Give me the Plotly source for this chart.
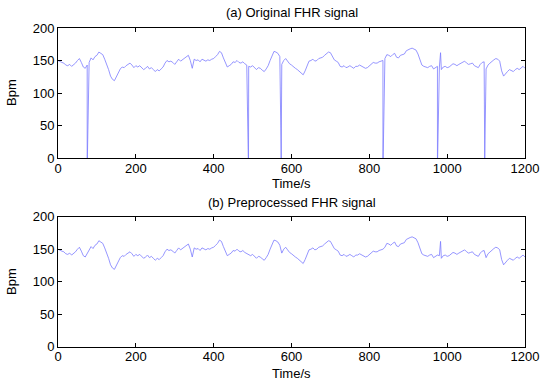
import plotly.graph_objects as go

# Time axis (s), 5-second steps from 0 to 1200
time_s = list(range(0, 1205, 5))

# Preprocessed FHR (bpm)
fhr_clean = [
    150, 148, 147, 146, 143, 142, 144, 141, 143, 146, 150, 153, 147, 140, 138, 143, 147, 154, 151, 156,
    158, 163, 161, 159, 152, 145, 136, 126, 121, 119, 125, 132, 137, 140, 139, 142, 144, 146, 143, 139,
    142, 140, 142, 139, 136, 138, 141, 137, 139, 136, 133, 136, 134, 137, 140, 146, 150, 148, 149, 147,
    144, 148, 152, 149, 151, 153, 155, 158, 150, 138, 152, 150, 151, 148, 152, 150, 149, 151, 150, 152,
    153, 156, 159, 164, 162, 154, 146, 140, 142, 144, 148, 147, 150, 147, 146, 148, 145, 143, 141, 140,
    142, 139, 136, 139, 138, 135, 133, 137, 142, 150, 158, 164, 163, 161, 156, 144, 150, 153, 149, 145,
    143, 140, 138, 136, 133, 130, 128, 134, 142, 149, 150, 152, 149, 150, 153, 154, 155, 158, 161, 163,
    162, 156, 151, 149, 147, 141, 140, 142, 139, 140, 142, 140, 138, 141, 141, 143, 141, 139, 138, 139,
    142, 144, 147, 146, 146, 148, 149, 150, 153, 159, 158, 156, 159, 161, 155, 154, 158, 159, 160, 165,
    167, 168, 169, 168, 166, 160, 150, 143, 141, 140, 139, 141, 142, 137, 139, 141, 140, 136, 140, 141,
    139, 140, 143, 145, 144, 142, 144, 146, 147, 149, 146, 144, 145, 146, 142, 140, 139, 144, 147, 148,
    137, 143, 146, 149, 151, 153, 152, 149, 134, 126, 130, 133, 136, 134, 133, 136, 138, 136, 139, 141,
    138,
]

# Short upward artefact present in both signals
peak_t = [983.0]
peak_v = [162]

# Dropout artefacts (signal loss) in the original recording
drop_t = [75.0, 75.5, 489.0, 489.5, 573.0, 573.5, 835.0, 835.5, 975.0, 975.5, 1096.0, 1096.5]
drop_v = [0, 0, 0, 0, 0, 0, 0, 0, 0, 0, 0, 0]


def merge(*pairs):
    pts = []
    for ts, vs in pairs:
        pts.extend(zip(ts, vs))
    pts.sort(key=lambda p: p[0])
    return [p[0] for p in pts], [p[1] for p in pts]


x_clean, y_clean = merge((time_s, fhr_clean), (peak_t, peak_v))
x_orig, y_orig = merge((time_s, fhr_clean), (peak_t, peak_v), (drop_t, drop_v))

LINE = dict(color="#7b7bff", width=0.8)
FONT = "Liberation Sans, Arial, sans-serif"
FS = 13

fig = go.Figure()
fig.add_trace(go.Scatter(x=x_orig, y=y_orig, mode="lines", line=LINE, xaxis="x", yaxis="y",
                         showlegend=False, hoverinfo="skip"))
fig.add_trace(go.Scatter(x=x_clean, y=y_clean, mode="lines", line=LINE, xaxis="x2", yaxis="y2",
                         showlegend=False, hoverinfo="skip"))

xdom = [58 / 550, 525 / 550]
common_x = dict(range=[0, 1200], tickvals=[0, 200, 400, 600, 800, 1000, 1200],
                showline=True, linecolor="black", linewidth=1, mirror="ticks",
                ticks="inside", ticklen=4, tickcolor="black", showgrid=False, zeroline=False,
                automargin=False, ticklabelstandoff=-2,
                tickfont=dict(size=FS, color="black", family=FONT), domain=xdom)
common_y = dict(range=[0, 200], tickvals=[0, 50, 100, 150, 200],
                showline=True, linecolor="black", linewidth=1, mirror="ticks",
                ticks="inside", ticklen=4, tickcolor="black", showgrid=False, zeroline=False,
                automargin=False,
                tickfont=dict(size=FS, color="black", family=FONT))

fig.update_layout(
    template="none",
    width=550, height=384, autosize=False,
    margin=dict(l=0, r=0, t=0, b=0, pad=0, autoexpand=False),
    paper_bgcolor="white", plot_bgcolor="white",
    font=dict(family=FONT, size=FS, color="black"),
    xaxis=dict(common_x, anchor="y"),
    yaxis=dict(common_y, anchor="x", domain=[1 - 158 / 384, 1 - 28 / 384]),
    xaxis2=dict(common_x, anchor="y2"),
    yaxis2=dict(common_y, anchor="x2", domain=[1 - 346.7 / 384, 1 - 216.7 / 384]),
)

cx = (58 + 525) / 2 / 550
ann = [
    dict(text="(a) Original FHR signal", x=cx, y=1 - 13 / 384),
    dict(text="(b) Preprocessed FHR signal", x=cx, y=1 - 202 / 384),
    dict(text="Time/s", x=cx, y=1 - 183 / 384),
    dict(text="Time/s", x=cx, y=1 - 373 / 384),
    dict(text="Bpm", x=11 / 550, y=1 - 93 / 384, textangle=-90),
    dict(text="Bpm", x=11 / 550, y=1 - 282 / 384, textangle=-90),
]
for a in ann:
    fig.add_annotation(xref="paper", yref="paper", showarrow=False,
                       xanchor="center", yanchor="middle",
                       font=dict(size=FS, color="black", family=FONT), **a)

fig.write_html(
    "out.html",
    config={"responsive": False, "displayModeBar": False},
    post_script="document.body.style.margin='0';document.body.style.overflow='hidden';",
)
